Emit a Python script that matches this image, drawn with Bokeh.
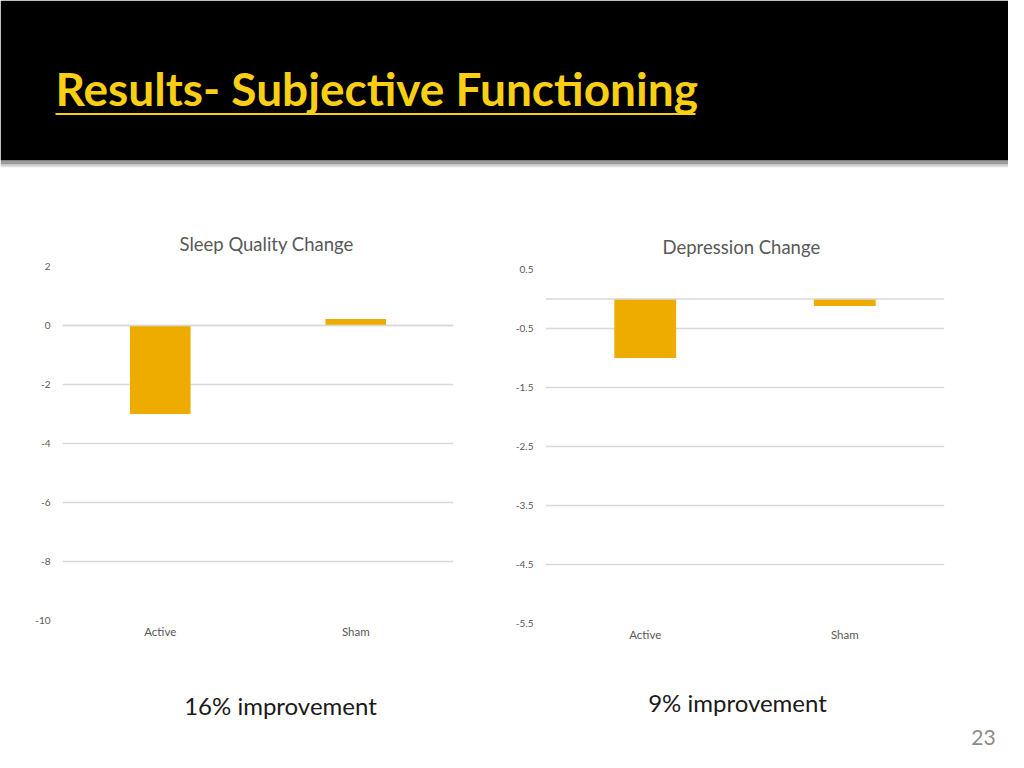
from bokeh.plotting import figure
from bokeh.layouts import column, row
from bokeh.models import Range1d, FactorRange, FixedTicker, Span, ColumnDataSource, Spacer
from bokeh.core.properties import value
from bokeh.embed import file_html
from bokeh.resources import INLINE

# ---- data ----
slide_title = "Results- Subjective Functioning"
categories = ["Active", "Sham"]
sleep_change = [-3.0, 0.22]
depression_change = [-1.0, -0.12]
sleep_ticks = [2, 0, -2, -4, -6, -8, -10]
dep_ticks = [0.5, -0.5, -1.5, -2.5, -3.5, -4.5, -5.5]
sleep_title = "Sleep Quality Change"
dep_title = "Depression Change"
notes = ["16% improvement", "9% improvement"]
page_number = "23"

FONT = "Lato"
BAR = "#EFAC00"
GRID = "#D9D9D9"
LABEL = "#595959"

# ---- header ----
hdr = figure(width=1008, height=178, x_range=Range1d(0, 1008), y_range=Range1d(178, 0),
             output_backend="svg", toolbar_location=None, min_border=0)
hdr.axis.visible = False
hdr.grid.visible = False
hdr.outline_line_color = None
hdr.background_fill_color = "white"
hdr.border_fill_color = "white"
hdr.quad(left=0, right=1008, top=0, bottom=160, fill_color="black", line_color=None)
for yy, col in [(161.5, "#7a7a7a"), (163, "#9a9a9a"), (164.5, "#bdbdbd"), (166, "#e0e0e0")]:
    hdr.segment(x0=0, x1=1008, y0=yy, y1=yy, line_color=col, line_width=1.5)
hdr.text(x=[55], y=[88], text=[slide_title], text_font=value(FONT), text_font_style="bold",
         text_font_size="46px", text_color="#F9CF14", text_baseline="alphabetic", text_align="left")
hdr.segment(x0=55, x1=695, y0=113.5, y1=113.5, line_color="#F9CF14", line_width=2)


def chart(values, ticks, yr, title, w, h, bl, br, bt, bb, toff):
    p = figure(width=w, height=h, x_range=FactorRange(*categories), y_range=Range1d(*yr),
               output_backend="svg", toolbar_location=None,
               min_border_left=bl, min_border_right=br, min_border_top=bt, min_border_bottom=bb)
    p.title.text = title
    p.title.align = "left"
    p.title.offset = toff
    p.title.text_font = FONT
    p.title.text_font_style = "normal"
    p.title.text_font_size = "18.5px"
    p.title.text_color = LABEL
    p.title.standoff = 23
    p.outline_line_color = None
    p.background_fill_color = "white"
    p.border_fill_color = "white"
    p.xgrid.visible = False
    p.yaxis.ticker = FixedTicker(ticks=ticks)
    p.yaxis.major_label_overrides = {t: ("%g" % t) for t in ticks}
    p.ygrid.ticker = FixedTicker(ticks=ticks)
    p.ygrid.grid_line_color = GRID
    p.ygrid.grid_line_width = 1.3
    for ax in (p.xaxis[0], p.yaxis[0]):
        ax.axis_line_color = None
        ax.major_tick_line_color = None
        ax.minor_tick_line_color = None
        ax.major_tick_in = 0
        ax.major_tick_out = 0
        ax.minor_tick_in = 0
        ax.minor_tick_out = 0
        ax.major_label_text_font = FONT
        ax.major_label_text_color = LABEL
    p.yaxis.major_label_text_font_size = "10px"
    p.yaxis.major_label_standoff = 12
    p.xaxis.major_label_text_font_size = "11.5px"
    p.xaxis.major_label_standoff = 4
    p.add_layout(Span(location=0, dimension="width", line_color=GRID, line_width=1.3))
    src = ColumnDataSource(dict(x=categories, top=values))
    p.vbar(x="x", top="top", bottom=0, width=0.31, source=src, fill_color=BAR, line_color=None)
    return p


c1 = chart(sleep_change, sleep_ticks, (-10, 2), sleep_title, 490, 490, 62, 37, 88, 48, 117)
c2 = chart(depression_change, dep_ticks, (-5.5, 0.5), dep_title, 518, 487, 55, 64, 88, 45, 117)

# ---- footer ----
ftr = figure(width=1008, height=84, x_range=Range1d(0, 1008), y_range=Range1d(84, 0),
             output_backend="svg", toolbar_location=None, min_border=0)
ftr.axis.visible = False
ftr.grid.visible = False
ftr.outline_line_color = None
ftr.text(x=[280, 737], y=[37, 34], text=notes, text_font=value(FONT), text_font_size="24px",
         text_color="#1a1a1a", text_align="center", text_baseline="middle")
ftr.text(x=[983], y=[69], text=[page_number], text_font=value(FONT), text_font_size="21px",
         text_color="#8c8c8c", text_align="center", text_baseline="middle")

layout = column(hdr, row(c1, column(Spacer(height=3), c2)), ftr)
open("out.html", "w").write(file_html(layout, INLINE))
